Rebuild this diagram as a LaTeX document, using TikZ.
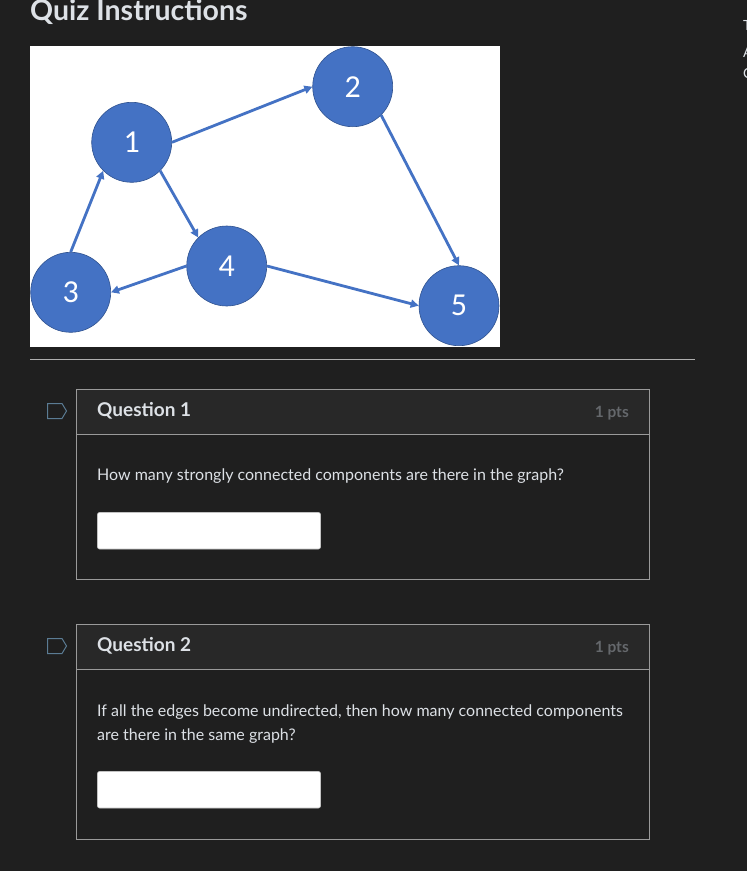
\documentclass[tikz,border=0pt]{standalone}
\usepackage{fontspec}
\setmainfont{Lato}
\newfontfamily\carlito{Carlito}
\usetikzlibrary{arrows.meta}
\definecolor{bg}{HTML}{1F1F1F}
\definecolor{hdr}{HTML}{282828}
\definecolor{frame}{HTML}{9A9A9A}
\definecolor{txt}{HTML}{DDE1E6}
\definecolor{pts}{HTML}{65686C}
\definecolor{nodeblue}{HTML}{4472C4}
\definecolor{nodeedge}{HTML}{2F528F}
\definecolor{tagc}{HTML}{5B7C94}
\tikzset{
  gnode/.style={circle, fill=nodeblue, draw=nodeedge, line width=0.6pt, minimum size=80pt, inner sep=0pt, text=white, font=\carlito\fontsize{32}{34}\selectfont},
  garrow/.style={draw=nodeblue, line width=2.8pt, -{Triangle[length=8pt,width=8pt]}},
  qframe/.style={draw=frame, line width=0.9pt},
  inputbox/.style={fill=white, draw=frame!60, line width=0.6pt, rounded corners=2pt},
  qtitle/.style={anchor=base west, inner sep=0pt, text=txt, font=\bfseries\fontsize{19}{22}\selectfont},
  qpts/.style={anchor=base east, inner sep=0pt, text=pts, font=\bfseries\fontsize{15.5}{18}\selectfont},
  qtext/.style={anchor=base west, inner sep=0pt, text=txt, font=\fontsize{16}{24}\selectfont},
  tagicon/.style={draw=tagc, line width=1pt, line join=miter},
  sidechar/.style={anchor=base west, inner sep=0pt, text=txt, font=\fontsize{14}{16}\selectfont}
}
\begin{document}
\begin{tikzpicture}[x=1pt,y=-1pt]
\useasboundingbox (0,0) rectangle (747,871);
\clip (0,0) rectangle (747,871);
\fill[bg] (0,0) rectangle (747,871);

% title and cut-off side text
\node[anchor=base west, inner sep=0pt, text=txt, font=\bfseries\fontsize{28.5}{32}\selectfont] (title) at (30,20.5) {Quiz Instructions};
\node[sidechar] (s1) at (743,30) {T};
\node[sidechar] (s2) at (743,57) {A};
\node[sidechar] (s3) at (743,78) {C};

% graph image
\fill[white] (30,46) rectangle (500,347);
\node[gnode] (n1) at (131.7,142.3) {1};
\node[gnode] (n2) at (352.7,86.7) {2};
\node[gnode] (n3) at (70.7,292.3) {3};
\node[gnode] (n4) at (226.7,266) {4};
\node[gnode] (n5) at (459,305.7) {5};
\draw[garrow] (n1.east) -- (n2.west);
\draw[garrow] (n2.south east) -- (n5.north);
\draw[garrow] (n1.south east) -- (n4.north west);
\draw[garrow] (n3.north) -- (n1.south west);
\draw[garrow] (n4.west) -- (n3.east);
\draw[garrow] (n4.east) -- (n5.west);

% separator
\draw[frame!80, line width=0.9pt] (30,359.5) -- (695,359.5);

% Question 1
\fill[hdr] (76.5,389.5) rectangle (649,434);
\draw[qframe] (76.5,389.5) rectangle (649,579.5);
\draw[qframe] (76.5,434) -- (649,434);
\draw[tagicon] (47.5,403.5) -- (62,403.5) -- (66.5,411) -- (62,418.5) -- (47.5,418.5) -- cycle;
\node[qtitle] (q1t) at (97,416.5) {Question 1};
\node[qpts] (q1p) at (629,417) {1 pts};
\node[qtext] (q1x) at (97,480.5) {How many strongly connected components are there in the graph?};
\draw[inputbox] (97.5,512.5) rectangle (320.5,549);

% Question 2
\fill[hdr] (76.5,624.5) rectangle (649,669);
\draw[qframe] (76.5,624.5) rectangle (649,839);
\draw[qframe] (76.5,669) -- (649,669);
\draw[tagicon] (47.5,638.5) -- (62,638.5) -- (66.5,646) -- (62,653.5) -- (47.5,653.5) -- cycle;
\node[qtitle] (q2t) at (97,651.5) {Question 2};
\node[qpts] (q2p) at (629,652) {1 pts};
\node[qtext] (q2x) at (97,716) {If all the edges become undirected, then how many connected components};
\node[qtext] (q2y) at (97,740) {are there in the same graph?};
\draw[inputbox] (97.5,771.5) rectangle (320.5,808);
\end{tikzpicture}
\end{document}
